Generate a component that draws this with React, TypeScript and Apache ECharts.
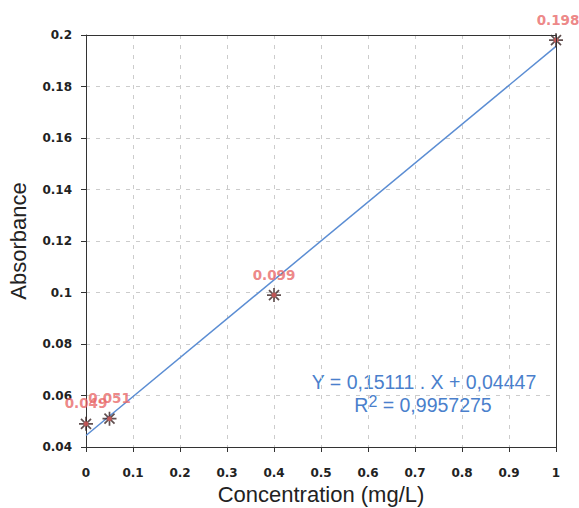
import React, { useEffect, useRef } from "react";
import * as echarts from "echarts";

const concentrations = [0, 0.05, 0.4, 1];
const absorbances = [0.049, 0.051, 0.099, 0.198];
const pointLabels = ["0.049", "0.051", "0.099", "0.198"];
const slope = 0.15111;
const intercept = 0.04447;
const equationText = "Y = 0,15111 . X + 0,04447";
const r2Text = "0,9957275";
const fitRange = [0, 1];

const asterisk =
  "path://M0,-6L0,6M-6,0L6,0M-4.3,-4.3L4.3,4.3M-4.3,4.3L4.3,-4.3";

export default function App() {
  const ref = useRef<HTMLDivElement>(null);
  useEffect(() => {
    if (!ref.current) return;
    const chart = echarts.init(ref.current, undefined, { renderer: "svg" });
    const fmt = (v: number) => String(parseFloat(v.toFixed(2)));
    const borderAxis = {
      type: "value",
      axisLine: { show: true, onZero: false, lineStyle: { color: "#333", width: 1 } },
      axisTick: { show: false },
      axisLabel: { show: false },
      splitLine: { show: false },
      z: 5,
    };
    chart.setOption({
      animation: false,
      backgroundColor: "#ffffff",
      grid: {
        left: 86,
        right: 23,
        top: 35,
        bottom: 61,
        show: false,
        containLabel: false,
        outerBoundsMode: "none",
      },
      xAxis: [
        {
          type: "value",
          min: 0,
          max: 1,
          interval: 0.1,
          name: "Concentration (mg/L)",
          nameLocation: "middle",
          nameGap: 31,
          nameTextStyle: { fontFamily: "Liberation Sans", fontSize: 22, color: "#222" },
          axisLine: { show: true, onZero: false, lineStyle: { color: "#333", width: 1 } },
          axisTick: { show: true, inside: false, length: 5, lineStyle: { color: "#333" } },
          axisLabel: {
            margin: 20,
            fontFamily: "DejaVu Sans",
            fontWeight: "bold",
            fontSize: 12,
            color: "#222",
            formatter: fmt,
          },
          splitLine: { show: true, lineStyle: { color: "#ccc", type: [4, 6] } },
        },
        { ...borderAxis, position: "top", min: 0, max: 1 },
      ],
      yAxis: [
        {
          type: "value",
          min: 0.04,
          max: 0.2,
          interval: 0.02,
          name: "Absorbance",
          nameLocation: "middle",
          nameGap: 57,
          nameRotate: 90,
          nameTextStyle: { fontFamily: "Liberation Sans", fontSize: 22, color: "#222" },
          axisLine: { show: true, onZero: false, lineStyle: { color: "#333", width: 1 } },
          axisTick: { show: true, inside: false, length: 5, lineStyle: { color: "#333" } },
          axisLabel: {
            margin: 14,
            fontFamily: "DejaVu Sans",
            fontWeight: "bold",
            fontSize: 12,
            color: "#222",
            formatter: fmt,
          },
          splitLine: { show: true, lineStyle: { color: "#ccc", type: [4, 6] } },
        },
        { ...borderAxis, position: "right", min: 0.04, max: 0.2 },
      ],
      series: [
        {
          type: "line",
          data: fitRange.map((x) => [x, intercept + slope * x]),
          showSymbol: false,
          lineStyle: { color: "#5b8dd3", width: 1.5 },
          silent: true,
          z: 2,
        },
        {
          type: "scatter",
          data: concentrations.map((x, i) => ({
            value: [x, absorbances[i]],
            label: i === 3 ? { offset: [2, 0] } : undefined,
          })),
          symbol: asterisk,
          symbolSize: 14,
          itemStyle: { color: "none", borderColor: "#3a2424", borderWidth: 1.7 },
          label: {
            show: true,
            position: "top",
            distance: 4,
            formatter: (p: any) => pointLabels[p.dataIndex],
            fontFamily: "DejaVu Sans",
            fontWeight: "bold",
            fontSize: 13.5,
            color: "#e86868",
          },
          z: 3,
        },
        {
          type: "scatter",
          data: concentrations.map((x, i) => [x, absorbances[i]]),
          symbol: "circle",
          symbolSize: 5,
          itemStyle: { color: "#d85a5a" },
          z: 4,
        },
      ],
      graphic: [
        {
          type: "text",
          x: 424,
          y: 382,
          style: {
            text: equationText,
            fontFamily: "Liberation Sans",
            fontSize: 19.5,
            fill: "#4a7fcc",
            align: "center",
            verticalAlign: "middle",
          },
        },
        {
          type: "text",
          x: 423,
          y: 405,
          style: {
            text: "{a|R}{s|2}{a| = " + r2Text + "}",
            align: "center",
            verticalAlign: "middle",
            rich: {
              a: { fontFamily: "Liberation Sans", fontSize: 19.5, fill: "#4a7fcc", color: "#4a7fcc" },
              s: {
                fontFamily: "Liberation Sans",
                fontSize: 16,
                color: "#4a7fcc",
                fill: "#4a7fcc",
                padding: [0, 0, 8, 0],
              },
            },
          },
        },
      ],
    });
    return () => chart.dispose();
  }, []);
  return <div ref={ref} style={{ width: 579, height: 508, position: "absolute", left: 0, top: 0 }} />;
}
